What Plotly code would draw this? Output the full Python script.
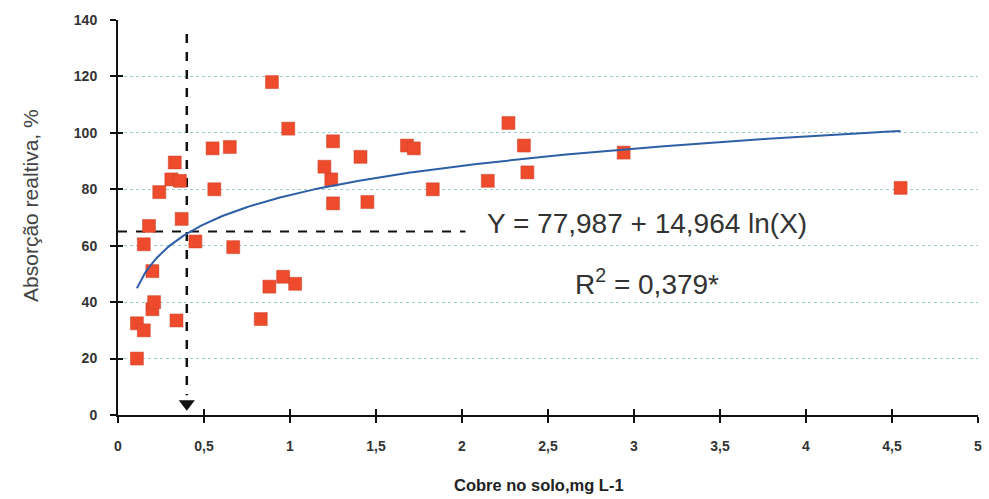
import numpy as np
import plotly.graph_objects as go

# Data
cobre = [0.11, 0.11, 0.15, 0.15, 0.18, 0.20, 0.20, 0.21, 0.24, 0.31,
         0.33, 0.36, 0.34, 0.37, 0.45, 0.55, 0.56, 0.65, 0.67, 0.83,
         0.88, 0.895, 0.96, 0.99, 1.03, 1.20, 1.25, 1.24, 1.25, 1.41,
         1.45, 1.68, 1.72, 1.83, 2.15, 2.27, 2.36, 2.38, 2.94, 4.55]
absorcao = [20, 32.5, 30, 60.5, 67, 51, 37.5, 40, 79, 83.5,
            89.5, 83, 33.5, 69.5, 61.5, 94.5, 80, 95, 59.5, 34,
            45.5, 118, 49, 101.5, 46.5, 88, 97, 83.5, 75, 91.5,
            75.5, 95.5, 94.5, 80, 83, 103.5, 95.5, 86, 93, 80.5]

a_coef = 77.987
b_coef = 14.964
fit_xmin, fit_xmax = 0.11, 4.55

x_ref = 0.4       # vertical reference line
y_ref = 65        # horizontal reference line
h_line_end = 2.02
v_line_top = 135
arrow_y = 4

x_ticks = [0, 0.5, 1, 1.5, 2, 2.5, 3, 3.5, 4, 4.5, 5]
x_ticklabels = ["0", "0,5", "1", "1,5", "2", "2,5", "3", "3,5", "4", "4,5", "5"]
y_ticks = [0, 20, 40, 60, 80, 100, 120, 140]

fx = np.linspace(fit_xmin, fit_xmax, 300)
fy = a_coef + b_coef * np.log(fx)

FONT = "Arial, Liberation Sans, sans-serif"

fig = go.Figure()

# reference dashed lines
fig.add_trace(go.Scatter(x=[0, h_line_end], y=[y_ref, y_ref], mode="lines",
                         line=dict(color="#111", width=2, dash="dash"),
                         hoverinfo="skip", showlegend=False))
fig.add_trace(go.Scatter(x=[x_ref, x_ref], y=[v_line_top, arrow_y + 3], mode="lines",
                         line=dict(color="#111", width=2.5, dash="dash"),
                         hoverinfo="skip", showlegend=False))
fig.add_trace(go.Scatter(x=[x_ref], y=[arrow_y], mode="markers",
                         marker=dict(symbol="triangle-down", size=14, color="#111"),
                         hoverinfo="skip", showlegend=False))

# data points
fig.add_trace(go.Scatter(x=cobre, y=absorcao, mode="markers",
                         marker=dict(symbol="square", size=13, color="#EE4A2C",
                                     line=dict(color="#C8452C", width=0.5)),
                         showlegend=False))

# fitted curve
fig.add_trace(go.Scatter(x=fx, y=fy, mode="lines",
                         line=dict(color="#2E5FA6", width=2),
                         showlegend=False))

fig.add_annotation(x=2.135, y=68, xref="x", yref="y", xanchor="left",
                   yanchor="middle", showarrow=False,
                   text="Y = 77,987 + 14,964 ln(X)",
                   font=dict(family=FONT, size=28, color="#333"))
fig.add_annotation(x=2.645, y=47, xref="x", yref="y", xanchor="left",
                   yanchor="middle", showarrow=False,
                   text="R<sup>2</sup> = 0,379*",
                   font=dict(family=FONT, size=28, color="#333"))

# axis titles
fig.add_annotation(x=0.49, y=-0.177, xref="paper", yref="paper",
                   xanchor="center", yanchor="middle", showarrow=False,
                   text="<b>Cobre no solo,mg L-1</b>",
                   font=dict(family=FONT, size=16.5, color="#222"))
fig.add_annotation(x=-0.102, y=0.53, xref="paper", yref="paper",
                   xanchor="center", yanchor="middle", showarrow=False,
                   textangle=-90, text="Absorção realtiva, %",
                   font=dict(family=FONT, size=21, color="#444"))

tickfont = dict(family=FONT, size=14, color="#333", weight="bold")

fig.update_layout(
    width=989, height=499,
    margin=dict(l=118, r=7, t=20, b=84),
    plot_bgcolor="white", paper_bgcolor="white",
    xaxis=dict(range=[0, 5], tickvals=x_ticks, ticktext=x_ticklabels,
               ticks="outside", ticklen=6, tickwidth=1.5, tickcolor="#111",
               showline=True, linecolor="#111", linewidth=2,
               showgrid=False, zeroline=False, tickfont=tickfont,
               ticklabelstandoff=11),
    yaxis=dict(range=[0, 140], tickvals=y_ticks,
               ticks="outside", ticklen=6, tickwidth=1.5, tickcolor="#111",
               showline=True, linecolor="#111", linewidth=2,
               showgrid=True, gridcolor="#9ccccc", griddash="dot", gridwidth=1,
               zeroline=False, tickfont=tickfont, ticklabelstandoff=10),
    xaxis2=dict(range=[0, 5], tickvals=x_ticks, overlaying="x",
                ticks="inside", ticklen=6, tickwidth=1.5, tickcolor="#111",
                showticklabels=False, showgrid=False, zeroline=False,
                side="bottom", anchor="y"),
    yaxis2=dict(range=[0, 140], tickvals=y_ticks, overlaying="y",
                ticks="inside", ticklen=5, tickwidth=1.5, tickcolor="#111",
                showticklabels=False, showgrid=False, zeroline=False,
                side="left", anchor="x"),
)
# dummy trace to activate overlay axes
fig.add_trace(go.Scatter(x=[None], y=[None], xaxis="x2", yaxis="y2",
                         showlegend=False, hoverinfo="skip"))

fig.write_html("out.html")
